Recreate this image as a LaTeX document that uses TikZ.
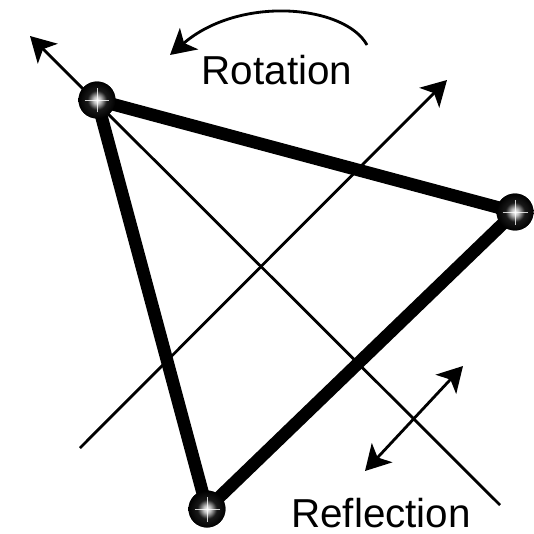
\documentclass[tikz,border=0pt]{standalone}
\usepackage{fontspec}
\setmainfont{Liberation Sans}
\usetikzlibrary{arrows.meta}
\pgfdeclareradialshading{glow}{\pgfpoint{0bp}{0bp}}{color(0bp)=(white);color(5bp)=(white!75!black);color(13bp)=(black!90);color(25bp)=(black);color(50bp)=(black)}

\begin{document}
\begin{tikzpicture}[x=0.02cm,y=-0.02cm,
  axisline/.style={line width=1.6pt},
  bigtip/.style={-{Stealth[length=0.5cm,width=0.56cm,inset=0.13cm]}},
  twotips/.style={{Stealth[length=0.5cm,width=0.56cm,inset=0.13cm]}-{Stealth[length=0.5cm,width=0.56cm,inset=0.13cm]}},
  edgeline/.style={line width=7.2pt,line cap=round,line join=round},
  corner/.style={circle,minimum size=0.74cm,inner sep=0pt,shading=glow},
  label/.style={font=\fontsize{23}{28}\selectfont}]
\useasboundingbox (0,0) rectangle (534,534);
% corners and axis ends
\node[corner] (a) at (97,100) {};
\node[corner] (b) at (515,212) {};
\node[corner] (c) at (207,509) {};
\coordinate (m1) at (30,36);
\coordinate (m1e) at (500,505);
\coordinate (m2) at (447,80);
\coordinate (m2e) at (80,448);
\coordinate (r1) at (365,471);
\coordinate (r2) at (463,366);
\coordinate (t1) at (367,45);
\coordinate (t2) at (170,55);
% mirror axes
\draw[axisline,bigtip] (m1e)--(m1);
\draw[axisline,bigtip] (m2e)--(m2);
\draw[axisline,twotips] (r1)--(r2);
\draw[axisline,bigtip] (t1) .. controls (345,5) and (240,-5) .. (t2);
% triangle
\draw[edgeline] (a.center)--(b.center)--(c.center)--cycle;
\foreach \v in {a,b,c}{
  \node[corner] at (\v) {};
  \draw[white,opacity=0.8,line width=0.5pt] ([xshift=-0.25cm]\v.center)--([xshift=0.25cm]\v.center);
  \draw[white,opacity=0.8,line width=0.5pt] ([yshift=-0.25cm]\v.center)--([yshift=0.25cm]\v.center);
}
\node[label] (rot) at (277,70) {Rotation};
\node[label] (refl) at (381,513) {Reflection};
\end{tikzpicture}
\end{document}
